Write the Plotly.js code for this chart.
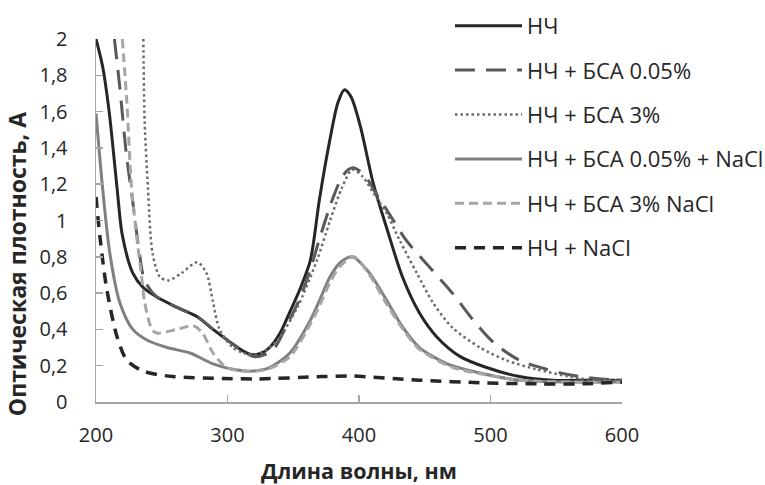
<!DOCTYPE html>
<html><head><meta charset="utf-8">
<script src="https://cdn.plot.ly/plotly-3.0.1.min.js"></script>
<style>body{margin:0;background:#fff}#chart{width:765px;height:485px}</style>
</head><body><div id="chart"></div>
<script>
const seriesNames = ["НЧ", "НЧ + БСА 0.05%", "НЧ + БСА 3%", "НЧ + БСА 0.05% + NaCl", "НЧ + БСА 3% NaCl", "НЧ + NaCl"];
const xTitle = "Длина волны, нм";
const yTitle = "Оптическая плотность, А";

const xNC = [200, 205, 210, 216, 220, 228, 236, 246, 262, 277, 289, 302, 312, 319, 326, 332, 340, 347, 355, 363, 370, 378, 384, 389, 394, 401, 411, 421, 433, 446, 459, 477, 497, 522, 547, 575, 600];
const yNC = [2.0, 1.85, 1.6, 1.18, 0.92, 0.71, 0.63, 0.58, 0.52, 0.47, 0.40, 0.33, 0.28, 0.26, 0.27, 0.30, 0.38, 0.49, 0.62, 0.78, 1.12, 1.45, 1.65, 1.72, 1.68, 1.52, 1.20, 0.96, 0.69, 0.49, 0.36, 0.25, 0.19, 0.14, 0.12, 0.12, 0.12];

const xBSA005 = [214, 218, 223, 228, 233, 237, 246, 262, 277, 289, 302, 312, 320, 328, 335, 347, 355, 363, 370, 380, 388, 395, 401, 408, 412, 421, 436, 454, 471, 487, 502, 522, 543, 560, 580, 600];
const yBSA005 = [2.0, 1.74, 1.37, 1.10, 0.82, 0.67, 0.58, 0.52, 0.47, 0.40, 0.33, 0.28, 0.25, 0.26, 0.29, 0.45, 0.57, 0.73, 0.90, 1.12, 1.25, 1.29, 1.27, 1.21, 1.16, 1.06, 0.89, 0.74, 0.60, 0.45, 0.33, 0.23, 0.18, 0.15, 0.13, 0.12];

const xBSA3 = [236, 237, 239.5, 243, 248.5, 255, 265, 277, 284, 289, 294, 304, 312, 320, 328, 338, 353, 368, 378, 387, 395, 403, 411, 421, 431, 444, 456, 471, 492, 512, 535, 560, 580, 600];
const yBSA3 = [2.0, 1.55, 1.18, 0.82, 0.69, 0.67, 0.71, 0.77, 0.71, 0.55, 0.40, 0.30, 0.27, 0.26, 0.28, 0.34, 0.52, 0.78, 1.00, 1.18, 1.28, 1.24, 1.15, 1.04, 0.89, 0.71, 0.55, 0.41, 0.30, 0.23, 0.18, 0.14, 0.12, 0.12];

const xBSA005NaCl = [200, 205, 210.5, 218, 228, 239, 254, 271.5, 289, 304, 317, 332, 347.5, 363, 370, 378, 386, 395, 408, 421, 433.5, 446, 467, 492, 522, 560, 600];
const yBSA005NaCl = [1.59, 1.18, 0.82, 0.55, 0.40, 0.34, 0.30, 0.27, 0.21, 0.18, 0.17, 0.19, 0.27, 0.45, 0.56, 0.69, 0.77, 0.80, 0.71, 0.56, 0.41, 0.30, 0.21, 0.16, 0.12, 0.11, 0.11];

const xBSA3NaCl = [220, 223.5, 227, 231, 235, 237, 242.5, 246, 261.5, 274, 281, 289, 299.5, 315, 330, 347.5, 363, 370, 378, 386, 396, 408, 421, 433.5, 446, 471.5, 497, 522, 560, 600];
const yBSA3NaCl = [2.0, 1.65, 1.18, 0.91, 0.67, 0.55, 0.40, 0.38, 0.40, 0.42, 0.38, 0.27, 0.19, 0.17, 0.18, 0.25, 0.43, 0.53, 0.66, 0.75, 0.80, 0.70, 0.54, 0.40, 0.29, 0.19, 0.15, 0.12, 0.11, 0.11];

const xNaCl = [200, 203, 208, 216, 223.5, 236, 258.5, 296.5, 322, 372.5, 395, 446, 497, 537, 570, 600];
const yNaCl = [1.13, 0.91, 0.63, 0.36, 0.23, 0.17, 0.14, 0.13, 0.127, 0.14, 0.143, 0.12, 0.105, 0.10, 0.10, 0.11];

const xs = [xNC, xBSA005, xBSA3, xBSA005NaCl, xBSA3NaCl, xNaCl];
const ys = [yNC, yBSA005, yBSA3, yBSA005NaCl, yBSA3NaCl, yNaCl];
const styles = [
  {color: "#262626", width: 3, dash: "solid"},
  {color: "#595959", width: 3, dash: "20px,11px"},
  {color: "#6b6b6b", width: 2.5, dash: "2.5px,3px"},
  {color: "#808080", width: 3, dash: "solid"},
  {color: "#a6a6a6", width: 3, dash: "9px,5px"},
  {color: "#262626", width: 3.5, dash: "11px,8px"}
];

const traces = seriesNames.map((n, i) => ({
  type: "scatter", mode: "lines", name: n, x: xs[i], y: ys[i],
  legendgroup: "g" + i,
  line: Object.assign({shape: "spline", smoothing: 0.8}, styles[i])
}));

const FAM = "Open Sans, sans-serif";
const layout = {
  width: 765, height: 485,
  margin: {l: 96, r: 143, t: 39, b: 83, autoexpand: false},
  paper_bgcolor: "#fff", plot_bgcolor: "#fff",
  separators: ", ",
  font: {family: FAM, size: 20, color: "#262626"},
  showlegend: true,
  legend: {x: 0.673, xanchor: "left", y: 1.094, yanchor: "top", font: {family: FAM, size: 22, color: "#262626"},
    itemwidth: 67, tracegroupgap: 12.8, bgcolor: "rgba(0,0,0,0)", traceorder: "grouped", maxheight: 480},
  xaxis: {range: [200, 600], dtick: 100, tick0: 200, showgrid: false, zeroline: false,
    showline: true, linecolor: "#a6a6a6", linewidth: 1.5, ticks: "inside", ticklen: 7, tickwidth: 1.5, tickcolor: "#a6a6a6",
    ticklabelstandoff: 14, tickfont: {family: FAM, size: 20, color: "#262626"},
    title: {text: "<b>" + xTitle + "</b>", font: {family: FAM, size: 21.5, color: "#262626"}, standoff: 17}},
  yaxis: {range: [0, 2], dtick: 0.2, tick0: 0, showgrid: false, zeroline: false,
    showline: true, linecolor: "#a6a6a6", linewidth: 1.5, ticks: "inside", ticklen: 7, tickwidth: 1.5, tickcolor: "#a6a6a6",
    ticklabelstandoff: 23, tickfont: {family: FAM, size: 20, color: "#262626"}},
  annotations: [{text: "<b>" + yTitle + "</b>", textangle: -90, xref: "paper", yref: "paper",
    x: -0.150, y: 0.38, xanchor: "center", yanchor: "middle", showarrow: false,
    font: {family: FAM, size: 23, color: "#262626"}}]
};
Plotly.newPlot("chart", traces, layout, {displayModeBar: false, staticPlot: true});
</script></body></html>
